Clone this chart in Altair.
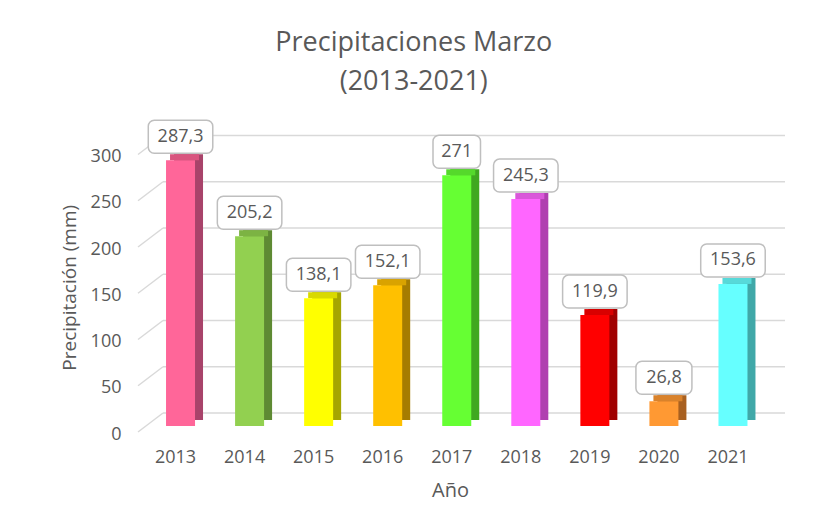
import altair as alt
import pandas as pd

years = ["2013", "2014", "2015", "2016", "2017", "2018", "2019", "2020", "2021"]
precip = [287.3, 205.2, 138.1, 152.1, 271, 245.3, 119.9, 26.8, 153.6]
labels = ["287,3", "205,2", "138,1", "152,1", "271", "245,3", "119,9", "26,8", "153,6"]
y_ticks = [0, 50, 100, 150, 200, 250, 300]

front_colors = ["#FF6699", "#92D050", "#FFFF00", "#FFC000", "#66FF33",
                "#FF66FF", "#FF0000", "#FF9933", "#66FFFF"]
top_colors = ["#D9557F", "#7CB343", "#D9D900", "#D9A300", "#55D92B",
              "#D957D9", "#D90000", "#D9822B", "#57D9D9"]
side_colors = ["#A8436A", "#5E8A33", "#A6A600", "#A67C00", "#40A820",
               "#B040B0", "#A00000", "#A86020", "#40A8A8"]

TXT = "#595959"
FONT = "Open Sans"

df = pd.DataFrame({"year": years, "value": precip, "label": labels})
grid_df = pd.DataFrame({"v": y_ticks})

x_scale = alt.Scale(domain=years)
y_scale = alt.Scale(domain=[0, 300])

x_axis = alt.Axis(title="Año", domain=False, ticks=False, grid=False,
                  labelAngle=0, labelPadding=22, labelOffset=-5,
                  labelFont=FONT, labelFontSize=18, labelColor=TXT,
                  titleFont=FONT, titleFontSize=20, titleFontWeight="normal",
                  titleColor=TXT, titlePadding=14, titleX=304)
y_axis = alt.Axis(title="Precipitación (mm)", values=y_ticks, domain=False,
                  ticks=False, grid=False, labelPadding=25, labelOffset=8,
                  labelFont=FONT, labelFontSize=18, labelColor=TXT,
                  titleFont=FONT, titleFontSize=19, titleFontWeight="normal",
                  titleColor=TXT, titlePadding=11)

x_enc = alt.X("year:N", scale=x_scale, axis=x_axis)
y_enc = alt.Y("value:Q", scale=y_scale, axis=y_axis)
y_grid = alt.Y("v:Q", scale=y_scale, axis=y_axis)

base = alt.Chart(df)

# back wall gridlines and floor diagonals
grid = alt.Chart(grid_df).mark_rule(color="#D9D9D9", strokeWidth=1.5, yOffset=-13).encode(
    x=alt.value(17), x2=alt.value(639), y=y_grid)
diag = alt.Chart(grid_df).mark_rule(color="#D9D9D9", strokeWidth=1.5, yOffset=6, y2Offset=-13).encode(
    x=alt.value(-8), x2=alt.value(17), y=y_grid, y2="v:Q")

side = base.mark_bar(size=29, xOffset=8, yOffset=-6, y2Offset=-6).encode(
    x=x_enc, y=y_enc,
    color=alt.Color("year:N", scale=alt.Scale(domain=years, range=side_colors), legend=None))
top = base.mark_bar(size=29, xOffset=4, yOffset=-6, y2Offset=0).encode(
    x=x_enc, y=y_enc, y2="value:Q",
    color=alt.Color("year:N", scale=alt.Scale(domain=years, range=top_colors), legend=None))
front = base.mark_bar(size=29).encode(
    x=x_enc, y=y_enc,
    fill=alt.Fill("year:N", scale=alt.Scale(domain=years, range=front_colors), legend=None))

boxes = base.transform_calculate(bw="length(datum.label) * 8.5 + 22").mark_bar(
    yOffset=-40, y2Offset=-7, cornerRadius=6, fill="white", stroke="#BFBFBF", strokeWidth=1.5
).encode(x=x_enc, y=y_enc, y2="value:Q", size=alt.Size("bw:Q", scale=None))
texts = base.mark_text(yOffset=-23.5, fontSize=18, font=FONT, color=TXT, baseline="middle").encode(
    x=x_enc, y=y_enc, text="label:N")

chart = alt.layer(grid, diag, side, top, front, boxes, texts).resolve_scale(
    color="independent"
).properties(
    width=621.5, height=277.5,
    padding={"left": 138, "top": 140.5, "right": 41.5, "bottom": 93},
    autosize=alt.AutoSizeParams(type="none"),
    title=alt.Title(["Precipitaciones Marzo", "(2013-2021)"], fontSize=27, font=FONT,
                    fontWeight="normal", color=TXT, lineHeight=39, anchor="middle",
                    frame="group", dx=-43, offset=23),
).configure_view(stroke=None)

chart.save("out.html", embed_options={"renderer": "svg", "actions": False})
